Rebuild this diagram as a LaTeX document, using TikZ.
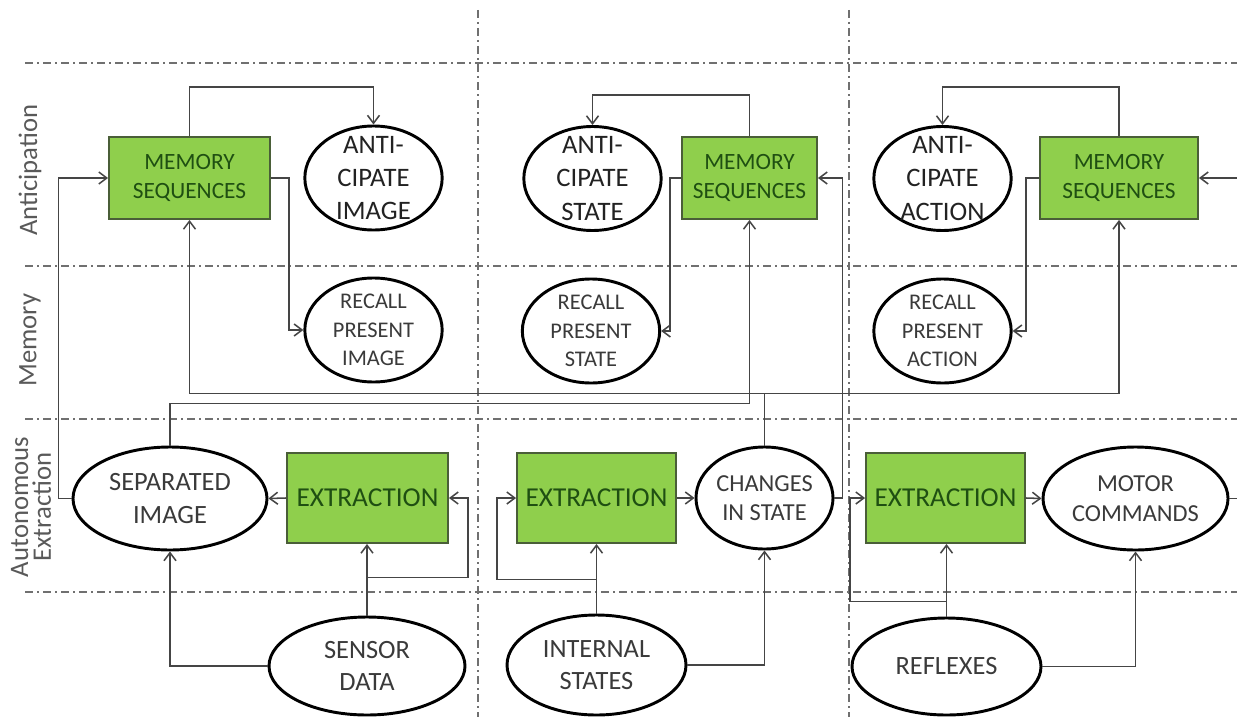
\documentclass[tikz,border=0pt]{standalone}
\usepackage{fontspec}
\setmainfont{Carlito}
\usetikzlibrary{shapes.geometric,arrows.meta}
\definecolor{gfill}{HTML}{8FCF4C}
\definecolor{gdraw}{HTML}{4A5E38}
\definecolor{gtext}{HTML}{1F4F12}
\definecolor{ctext}{HTML}{3A3A3A}
\definecolor{atext}{HTML}{222222}
\definecolor{conn}{HTML}{454545}
\definecolor{gridc}{HTML}{707070}
\definecolor{labc}{HTML}{595959}
\begin{document}
\begin{tikzpicture}[x=0.75pt,y=-0.75pt,
  box/.style={draw=gdraw,line width=1.4pt,fill=gfill,text=gtext,align=center,inner sep=0pt},
  memsty/.style={box,minimum height=61.5pt,font=\fontsize{17.5}{21.75}\selectfont},
  extsty/.style={box,minimum height=67.5pt,font=\fontsize{20.5}{24}\selectfont},
  ell/.style={draw=black,line width=2.2pt,ellipse,inner sep=0pt},
  small/.style={ell,minimum width=103pt,minimum height=78pt},
  antitext/.style={align=center,text=atext,inner sep=0pt,font=\fontsize{20}{25}\selectfont},
  recalltext/.style={align=center,text=ctext,inner sep=0pt,font=\fontsize{16.8}{21.4}\selectfont},
  bigtext/.style={align=center,text=ctext,inner sep=0pt,font=\fontsize{19.8}{24.5}\selectfont},
  midtext/.style={align=center,text=ctext,inner sep=0pt,font=\fontsize{18.3}{22}\selectfont},
  conline/.style={draw=conn,line width=1.15pt},
  arr/.style={conline,-{Straight Barb[length=6pt,width=9pt]}},
  gridl/.style={draw=gridc,line width=1.2pt,dash pattern=on 6pt off 3pt on 1.5pt off 3pt},
  sidelab/.style={rotate=90,text=labc,align=center,font=\fontsize{20}{17}\selectfont}
]
\useasboundingbox (0,0) rectangle (1237,717);

% grid lines
\draw[gridl] (25,63) -- (1237,63);
\draw[gridl] (25,266) -- (1237,266);
\draw[gridl] (25,419) -- (1237,419);
\draw[gridl] (25,592) -- (1237,592);
\draw[gridl] (478,10) -- (478,717);
\draw[gridl] (849,10) -- (849,717);

% side labels
\node[sidelab] (lab1) at (30,170) {Anticipation};
\node[sidelab] (lab2) at (30,340) {Memory};
\node[sidelab] (lab3) at (31,507) {Autonomous\\Extraction};

% column 1
\node[memsty,minimum width=120.75pt] (ms1) at (189.5,178) {MEMORY\\SEQUENCES};
\node[small,label={[antitext]center:{ANTI-\\CIPATE\\IMAGE}}] (ai) at (373.5,178) {};
\node[small,label={[recalltext]center:{RECALL\\PRESENT\\IMAGE}}] (ri) at (373.5,330) {};
\node[ell,minimum width=145.5pt,minimum height=77.25pt,label={[bigtext]center:{SEPARATED\\IMAGE}}] (si) at (170,498.5) {};
\node[extsty,minimum width=120.75pt] (ex1) at (367.5,498) {EXTRACTION};
\node[ell,minimum width=147pt,minimum height=73.5pt,label={[bigtext]center:{SENSOR\\DATA}}] (sd) at (367,666) {};

% column 2
\node[small,label={[antitext]center:{ANTI-\\CIPATE\\STATE}}] (as) at (592.5,178.5) {};
\node[memsty,minimum width=101.25pt] (ms2) at (749.5,178) {MEMORY\\SEQUENCES};
\node[small,label={[recalltext]center:{RECALL\\PRESENT\\STATE}}] (rs) at (591,331) {};
\node[extsty,minimum width=119.25pt] (ex2) at (596.5,498) {EXTRACTION};
\node[ell,minimum width=102.75pt,minimum height=76.5pt,label={[midtext]center:{CHANGES\\IN STATE}}] (ch) at (764.5,498) {};
\node[ell,minimum width=134.25pt,minimum height=75pt,label={[bigtext]center:{INTERNAL\\STATES}}] (is) at (596.5,665) {};

% column 3
\node[small,label={[antitext]center:{ANTI-\\CIPATE\\ACTION}}] (aa) at (942.5,178.5) {};
\node[memsty,minimum width=118.5pt] (ms3) at (1119,178) {MEMORY\\SEQUENCES};
\node[small,label={[recalltext]center:{RECALL\\PRESENT\\ACTION}}] (ra) at (942.5,331) {};
\node[extsty,minimum width=119.25pt] (ex3) at (945.5,498) {EXTRACTION};
\node[ell,minimum width=138.75pt,minimum height=77.25pt,label={[midtext]center:{MOTOR\\COMMANDS}}] (mc) at (1135.5,498.5) {};
\node[ell,minimum width=141.75pt,minimum height=72.75pt,label={[bigtext]center:{REFLEXES}}] (rf) at (946.5,666.5) {};

\coordinate (rin) at (1237,178);
\coordinate (rout) at (1237,498.5);

% connectors column 1
\draw[arr] (ms1.north) -- ++(0,-49) -| (ai.north);
\draw[arr] (ms1.east) -- ++(18,0) |- (ri.west);
\draw[arr] (si.west) -- ++(-13,0) |- (ms1.west);
\draw[arr] (ch.north) -- ++(0,-52) -| (ms1.south);
\draw[arr] (ch.north) -- ++(0,-52) -| (ms3.south);
\draw[arr] (si.north) -- ++(0,-42) -| (ms2.south);
\draw[arr] (sd.north) -- (sd.north |- ex1.south);
\draw[arr] (sd.north) -- ++(0,-38) -- ++(101,0) |- (ex1.east);
\draw[arr] (sd.west) -| (si.south);
\draw[arr] (ex1.west) -- (si.east);

% connectors column 2
\draw[arr] (ms2.north) -- ++(0,-41) -| (as.north);
\draw[arr] (ms2.west) -- ++(-11,0) |- (rs.east);
\draw[arr] (ch.east) -- ++(8,0) |- (ms2.east);
\draw[arr] (is.north) -- (is.north |- ex2.south);
\draw[arr] (is.north) -- ++(0,-34) -- ++(-99.5,0) |- (ex2.west);
\draw[arr] (is.east) -| (ch.south);
\draw[arr] (ex2.east) -- (ch.west);

% connectors column 3
\draw[arr] (ms3.north) -- ++(0,-49) -| (aa.north);
\draw[arr] (ms3.west) -- ++(-13,0) |- (ra.east);
\draw[arr] (rf.north) -- (rf.north |- ex3.south);
\draw[arr] (rf.north) -- ++(0,-15) -- ++(-96.5,0) |- (ex3.west);
\draw[arr] (rf.east) -| (mc.south);
\draw[arr] (ex3.east) -- (mc.west);
\draw[conline] (mc.east) -- (rout);
\draw[arr] (rin) -- (ms3.east);
\end{tikzpicture}
\end{document}
